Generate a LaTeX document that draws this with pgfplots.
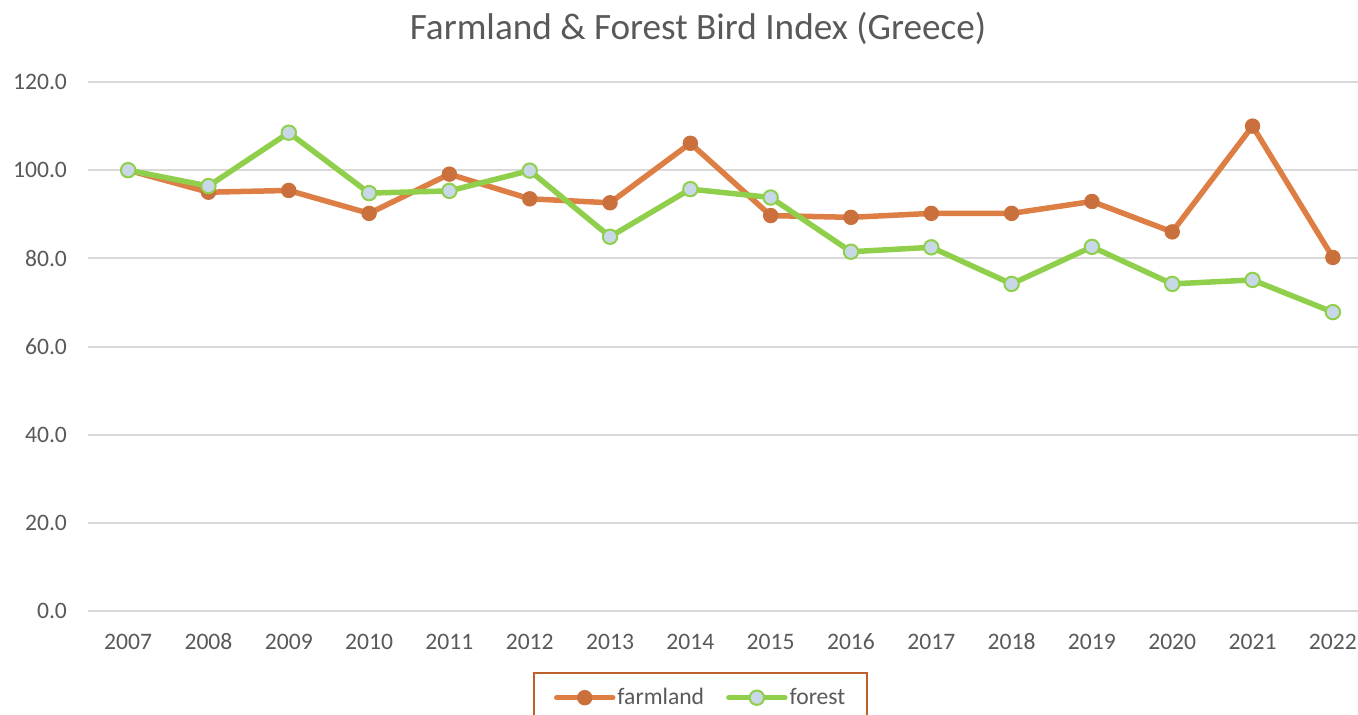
\documentclass[border=0pt]{standalone}
\usepackage{fontspec}
\setmainfont{Carlito}
\usepackage{pgfplots}
\pgfplotsset{compat=1.18}
\usetikzlibrary{calc}

\definecolor{farm}{HTML}{DD7E45}
\definecolor{farmmark}{HTML}{C9703C}
\definecolor{forestc}{HTML}{8FCF4B}
\definecolor{forestfill}{HTML}{C9D8E6}
\definecolor{txt}{HTML}{595959}
\definecolor{gridc}{HTML}{D9D9D9}
\definecolor{legframe}{HTML}{C0602A}

\begin{document}
\begin{tikzpicture}
\begin{axis}[
  name=ax,
  width=642.5pt, height=264.5pt, scale only axis,
  xmin=-0.5, xmax=15.5, ymin=0, ymax=120,
  xtick={0,...,15},
  xticklabels={2007,2008,2009,2010,2011,2012,2013,2014,2015,2016,2017,2018,2019,2020,2021,2022},
  ytick={0,20,...,120},
  axis line style={draw=none},
  major tick length=0pt,
  ymajorgrids, grid style={gridc, line width=1pt},
  /pgf/number format/assume math mode=true,
  yticklabel style={/pgf/number format/fixed, /pgf/number format/fixed zerofill,
    /pgf/number format/precision=1, xshift=-7pt},
  ticklabel style={font=\fontsize{11.8}{13}\selectfont, text=txt},
  xticklabel style={yshift=-7pt, text height=8.5pt, text depth=0pt},
  legend columns=2,
  legend style={at={(0.3463,-0.1153)}, anchor=north west,
    draw=legframe, line width=1pt, text=txt,
    font=\fontsize{11.8}{13}\selectfont,
    inner xsep=10pt, inner ysep=5.5pt,
    nodes={inner xsep=1pt},
    /tikz/every even column/.append style={column sep=10pt}},
  legend image code/.code={
    \draw[mark repeat=2, mark phase=2, line cap=round, #1]
      plot coordinates {(0pt,0pt) (14pt,0pt) (28pt,0pt)};},
]
\addplot[farm, line width=2.75pt, mark=*, mark size=3.6pt,
  mark options={fill=farmmark, draw=farmmark, line width=0.5pt}]
  coordinates {(0,100.0)(1,95.0)(2,95.4)(3,90.2)(4,99.1)(5,93.5)(6,92.6)(7,106.1)
               (8,89.7)(9,89.3)(10,90.2)(11,90.2)(12,92.9)(13,86.0)(14,110.0)(15,80.2)};
\addlegendentry{farmland}
\addplot[forestc, line width=2.75pt, mark=*, mark size=3.6pt,
  mark options={fill=forestfill, draw=forestc, line width=1pt}]
  coordinates {(0,100.0)(1,96.4)(2,108.5)(3,94.8)(4,95.3)(5,99.9)(6,84.9)(7,95.7)
               (8,93.8)(9,81.5)(10,82.5)(11,74.2)(12,82.6)(13,74.2)(14,75.1)(15,67.8)};
\addlegendentry{forest}
\end{axis}
\node[font=\fontsize{18.6}{22}\selectfont, text=txt]
  at ($(ax.south west)+(305pt,291.5pt)$) {Farmland \& Forest Bird Index (Greece)};
\pgfresetboundingbox
\path[use as bounding box] ($(ax.south west)+(-44pt,-51.5pt)$)
  rectangle ($(ax.south west)+(635pt,305.5pt)$);
\end{tikzpicture}
\end{document}
